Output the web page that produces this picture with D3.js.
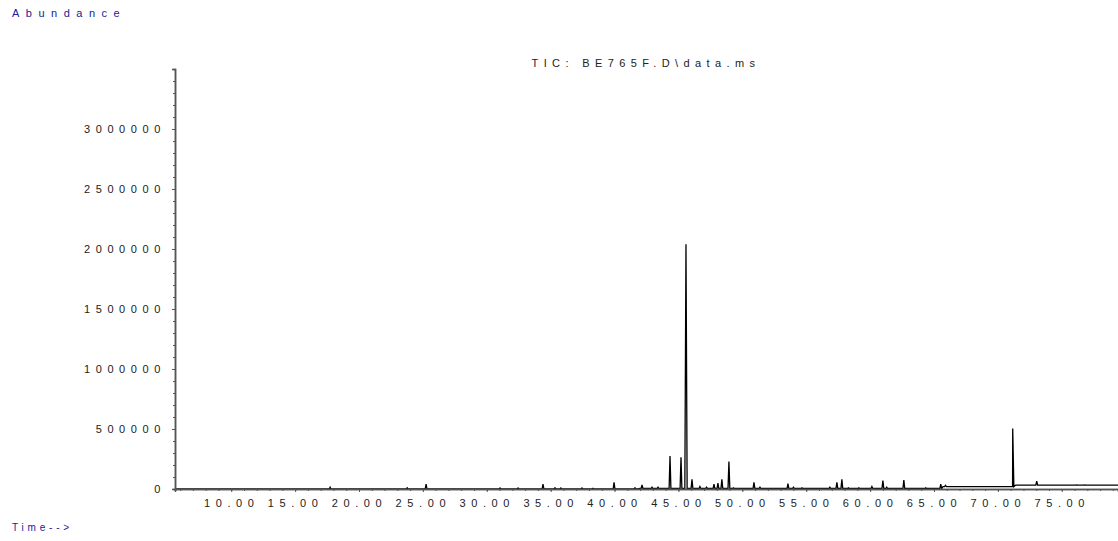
<!DOCTYPE html>
<html><head><meta charset="utf-8">
<script src="https://cdn.jsdelivr.net/npm/d3@7"></script>
<style>
body{margin:0;background:#fff}
text{font-family:"Liberation Sans",Arial,sans-serif}
</style></head><body>
<svg id="c" width="1118" height="541"></svg>
<script>
const chartTitle = "TIC: BE765F.D\\data.ms";
const yLabel = "Abundance";
const xLabel = "Time-->";
const xTickValues = [10,15,20,25,30,35,40,45,50,55,60,65,70,75];
const yTickValues = [0,500000,1000000,1500000,2000000,2500000,3000000];
// baseline level (step segments): start time, level
const baselineStarts = [5.6, 42.0, 65.7, 71.4];
const baselineLevels = [0, 4000, 20000, 33000];
// peaks: retention time (min) and apex abundance
const peakTimes = [17.74,23.77,25.25,31.04,32.45,34.40,35.34,35.8,37.45,38.31,39.96,41.6,42.15,42.93,43.4,44.34,45.20,45.59,46.06,46.68,47.2,47.78,48.09,48.40,48.95,49.3,50.91,51.38,53.57,54.0,54.67,56.85,57.40,57.79,58.3,59.12,60.14,61.00,61.3,62.64,64.36,65.53,65.9,71.16,73.04,76.17,76.80];
const peakHeights = [15000,10000,40000,8000,8000,40000,10000,8000,8000,6000,55000,10000,35000,15000,15000,275000,265000,2040000,80000,20000,15000,40000,50000,80000,230000,10000,55000,15000,45000,15000,10000,15000,55000,80000,10000,10000,20000,70000,15000,75000,10000,40000,30000,505000,65000,35000,35000];

const svg = d3.select("#c");
const x = d3.scaleLinear().domain([5.6, 79.4]).range([175, 1118]);
const y = d3.scaleLinear().domain([0, 3500000]).range([489, 69]);
const FONT = "'Liberation Sans',Arial,sans-serif";

function baseAt(t){
  let b = baselineLevels[0];
  for (let i=0;i<baselineStarts.length;i++) if (t>=baselineStarts[i]) b = baselineLevels[i];
  return b;
}
const events = [];
baselineStarts.forEach((s,i)=>{ if(i>0){ events.push({t:s-0.25, v:baselineLevels[i-1]}); } events.push({t:s, v:baselineLevels[i]}); });
peakTimes.forEach((t,i)=>{
  const hw = peakHeights[i] > 400000 ? 0.09 : 0.07;
  const b = baseAt(t);
  events.push({t:t-hw, v:b});
  events.push({t:t, v:Math.max(peakHeights[i], b)});
  events.push({t:t+hw, v:b});
});
events.push({t:79.4, v:baselineLevels[baselineLevels.length-1]});
events.sort((a,b)=>a.t-b.t);

const line = d3.line().x(d=>x(d.t)).y(d=>y(d.v));
svg.append("path").datum(events).attr("d", line)
  .attr("fill","none").attr("stroke","#000").attr("stroke-width",1.3);

// y axis
const yAxis = d3.axisLeft(y).tickValues(yTickValues).tickSize(3).tickFormat(d3.format("d"));
const yMinor = d3.axisLeft(y).tickValues(d3.range(0, 3500001, 100000)).tickSize(2).tickFormat("");
const gyM = svg.append("g").attr("transform","translate(175,0)").call(yMinor);
const gy = svg.append("g").attr("transform","translate(175,0)").call(yAxis);
[gy,gyM].forEach(g=>{
  g.select(".domain").attr("stroke","#555").attr("stroke-width",1.5);
  g.selectAll(".tick line").attr("stroke","#555");
});
gy.selectAll(".tick text").attr("x",-9).attr("font-size",11).attr("fill","#222")
  .attr("letter-spacing","5.6px").attr("font-family",FONT);

// x axis
const xAxis = d3.axisBottom(x).tickValues(xTickValues).tickSize(3).tickFormat(d3.format(".2f"));
const xMinor = d3.axisBottom(x).tickValues(d3.range(6, 80, 1)).tickSize(2).tickFormat("");
const gxM = svg.append("g").attr("transform","translate(0,489)").call(xMinor);
const gx = svg.append("g").attr("transform","translate(0,489)").call(xAxis);
[gx,gxM].forEach(g=>{
  g.select(".domain").attr("stroke","#555").attr("stroke-width",1.5);
  g.selectAll(".tick line").attr("stroke","#555");
});
gx.selectAll(".tick text").attr("y",10).attr("font-size",11).attr("fill","#222")
  .attr("letter-spacing","5.6px").attr("font-family",FONT);

// labels
svg.append("text").attr("x",12).attr("y",17).text(yLabel)
  .attr("font-size",11).attr("letter-spacing","6.5px").attr("fill","#20209a");
svg.append("text").attr("x",12).attr("y",531).text(xLabel)
  .attr("font-size",10).attr("letter-spacing","3.8px").attr("fill","#20209a");
svg.append("text").attr("x",646).attr("y",67).attr("text-anchor","middle").text(chartTitle)
  .attr("font-size",11).attr("letter-spacing","5.4px").attr("fill","#222");
</script>
</body></html>
